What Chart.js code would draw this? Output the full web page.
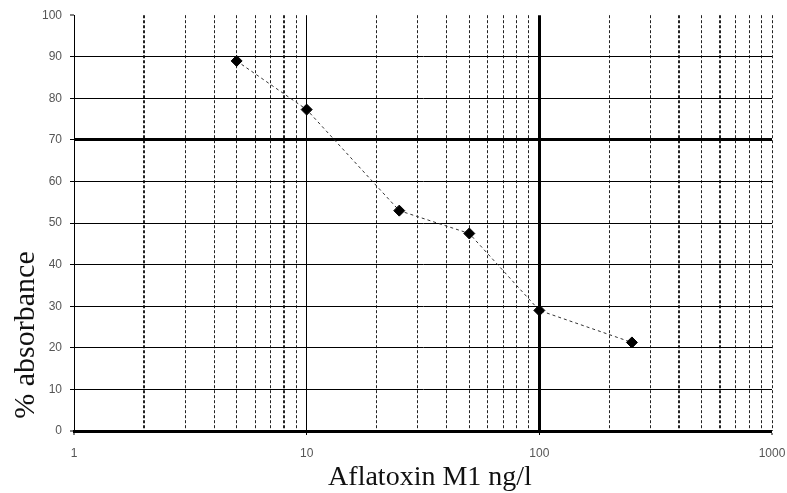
<!DOCTYPE html>
<html>
<head>
<meta charset="utf-8">
<script src="https://cdn.jsdelivr.net/npm/chart.js@4.4.1/dist/chart.umd.min.js"></script>
<style>
  body { margin: 0; background: #fff; }
  #wrap { width: 787px; height: 493px; }
</style>
</head>
<body>
<div id="wrap"><canvas id="aflatoxin-chart" width="787" height="493"></canvas></div>
<script>
(function () {
    "use strict";

    // concentration (ng/l) and % absorbance
    var concentrations = [5, 10, 25, 50, 100, 250];
    var absorbance = [89, 77.3, 53, 47.5, 29, 21.3];

    var majorTicks = [1, 10, 100, 1000];
    var minorTicks = [2, 3, 4, 5, 6, 7, 8, 9, 20, 30, 40, 50, 60, 70, 80, 90,
        200, 300, 400, 500, 600, 700, 800, 900, 1000];
    var yTicks = [0, 10, 20, 30, 40, 50, 60, 70, 80, 90, 100];

    var xTitle = "Aflatoxin M1 ng/l";
    var yTitle = "% absorbance";

    var points = concentrations.map(function (c, i) {
        return { x: c, y: absorbance[i] };
    });

    var setTicks = function (list) {
        return function (scale) {
            scale.ticks = list.map(function (v) { return { value: v }; });
        };
    };

    // axis titles drawn at the spots used in the reference
    var titlePlugin = {
        id: "titles",
        afterDraw: function (chart) {
            var ctx = chart.ctx;
            ctx.save();
            ctx.fillStyle = "#111";
            ctx.textAlign = "center";
            ctx.textBaseline = "alphabetic";
            ctx.font = "28px 'Liberation Serif', serif";
            ctx.fillText(xTitle, 430, 485);
            ctx.translate(34, 335);
            ctx.rotate(-Math.PI / 2);
            ctx.font = "30px 'Liberation Serif', serif";
            ctx.fillText(yTitle, 0, 0);
            ctx.restore();
        }
    };

    var tickFont = { family: "'Liberation Sans', Arial, sans-serif", size: 12 };

    new Chart(document.getElementById("aflatoxin-chart").getContext("2d"), {
        type: "line",
        data: {
            datasets: [{
                data: points,
                borderColor: "#333",
                borderWidth: 1,
                borderDash: [3, 3],
                pointStyle: "rectRot",
                pointRadius: 5.5,
                pointBackgroundColor: "#000",
                pointBorderColor: "#000",
                tension: 0
            }]
        },
        plugins: [titlePlugin],
        options: {
            responsive: false,
            animation: false,
            layout: { padding: { top: 15, right: 15, left: 0, bottom: 0 } },
            plugins: { legend: { display: false }, tooltip: { enabled: false } },
            scales: {
                x: {
                    type: "logarithmic",
                    position: "bottom",
                    min: 1,
                    max: 1000,
                    afterBuildTicks: setTicks(majorTicks),
                    afterFit: function (s) { s.height = 62; s.paddingLeft = 0; s.paddingRight = 0; },
                    border: { display: true, color: "#000", width: 3 },
                    grid: {
                        color: "#000",
                        lineWidth: function (c) {
                            if (c.tick && c.tick.value === 10) return 1;
                            if (c.tick && c.tick.value === 100) return 3;
                            return 0;
                        },
                        tickLength: 4,
                        tickWidth: 1,
                        tickColor: "#000"
                    },
                    ticks: {
                        autoSkip: false,
                        maxRotation: 0,
                        padding: 11,
                        color: "#555",
                        font: tickFont,
                        callback: function (v) { return String(v); }
                    }
                },
                xMinor: {
                    type: "logarithmic",
                    position: "bottom",
                    min: 1,
                    max: 1000,
                    afterBuildTicks: setTicks(minorTicks),
                    afterFit: function (s) { s.height = 0; s.paddingLeft = 0; s.paddingRight = 0; },
                    border: { display: false, dash: [3, 2] },
                    grid: {
                        drawTicks: false,
                        color: "#222",
                        lineWidth: function (c) {
                            var v = c.tick ? c.tick.value : 0;
                            return (v === 2 || v === 8 || v === 400 || v === 600) ? 2 : 1;
                        }
                    },
                    ticks: { display: false }
                },
                y: {
                    min: 0,
                    max: 100,
                    afterBuildTicks: setTicks(yTicks),
                    afterFit: function (s) { s.width = 74; },
                    border: { display: true, color: "#000", width: 1 },
                    grid: {
                        color: "#000",
                        lineWidth: function (c) {
                            var v = c.tick ? c.tick.value : -1;
                            if (v === 70) return 3;
                            if (v === 0 || v === 100) return 0;
                            return 1;
                        },
                        tickLength: 4,
                        tickWidth: 1,
                        tickColor: "#000"
                    },
                    ticks: {
                        padding: 8,
                        color: "#555",
                        font: tickFont
                    }
                }
            }
        }
    });
})();
</script>
</body>
</html>
